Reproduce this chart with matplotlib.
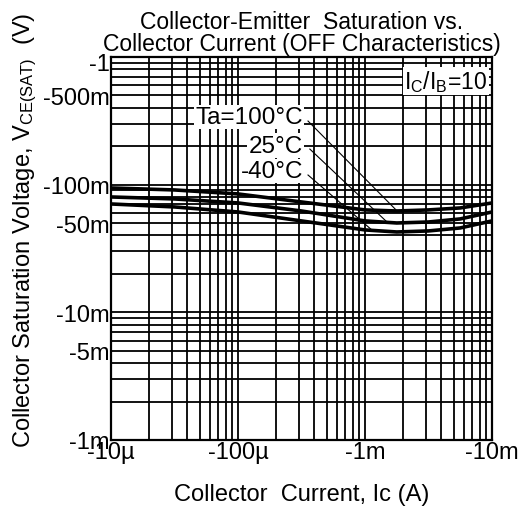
import numpy as np
import matplotlib.pyplot as plt
from matplotlib.ticker import FixedLocator, FixedFormatter, LogLocator, NullFormatter

plt.rcParams['font.family'] = ['Liberation Sans', 'DejaVu Sans']
plt.rcParams['mathtext.default'] = 'regular'

# Ток колектора, А (модуль)
ic = [1e-5, 3.16e-5, 1e-4, 3.16e-4, 1e-3, 1.78e-3, 3.16e-3, 5.62e-3, 1e-2]
# Напруга насичення, В (модуль)
v_100 = [0.0942, 0.0909, 0.0846, 0.0732, 0.0634, 0.0622, 0.0634, 0.0657, 0.0719]
v_25 = [0.0801, 0.0773, 0.0719, 0.0622, 0.0520, 0.0501, 0.0510, 0.0539, 0.0611]
v_m40 = [0.0706, 0.0669, 0.0611, 0.0520, 0.0442, 0.0426, 0.0434, 0.0458, 0.0520]

y_ticks = [1, 0.5, 0.1, 0.05, 0.01, 0.005, 0.001]
y_labels = ["-1", "-500m", "-100m", "-50m", "-10m", "-5m", "-1m"]
x_ticks = [1e-5, 1e-4, 1e-3, 1e-2]
x_labels = ["-10µ", "-100µ", "-1m", "-10m"]

fig = plt.figure(figsize=(5.23, 5.10), dpi=100)
ax = fig.add_axes([0.2122, 0.1353, 0.7285, 0.751])
ax.set_xscale("log")
ax.set_yscale("log")
ax.set_xlim(1e-5, 1e-2)
ax.set_ylim(1e-3, 1)

# верхню мітку "-1" малюю окремо, трохи нижче (як в оригіналі)
ax.yaxis.set_major_locator(FixedLocator(y_ticks))
ax.yaxis.set_major_formatter(FixedFormatter([""] + y_labels[1:]))
ax.yaxis.set_minor_locator(LogLocator(base=10, subs=np.arange(2, 10)))
ax.yaxis.set_minor_formatter(NullFormatter())
ax.xaxis.set_major_locator(FixedLocator(x_ticks))
ax.xaxis.set_major_formatter(FixedFormatter(x_labels))
ax.xaxis.set_minor_locator(LogLocator(base=10, subs=np.arange(2, 10)))
ax.xaxis.set_minor_formatter(NullFormatter())

ax.grid(True, which="both", color="black", linewidth=1.3)
ax.tick_params(which="both", length=0, labelsize=17, pad=1)
for s in ax.spines.values():
    s.set_linewidth(1.6)

ax.annotate(y_labels[0], xy=(0, y_ticks[0]), xycoords=("axes fraction", "data"),
            xytext=(-1, -5), textcoords="offset points", ha="right", va="center", fontsize=17)

for v in (v_100, v_25, v_m40):
    ax.plot(ic, v, color="black", linewidth=2.6, zorder=3)

box = dict(facecolor="white", edgecolor="none", pad=1)
ax.text(0.988, 0.937, r"I$_{C}$/I$_{B}$=10", transform=ax.transAxes, ha="right",
        va="center", fontsize=16.5, bbox=box, zorder=5)

# підписи температур і виноски до кривих
ax.text(3.25e-4, 0.339, "Ta=100°C", ha="right", va="center", fontsize=17.5, bbox=box, zorder=5)
ax.text(3.25e-4, 0.201, "25°C", ha="right", va="center", fontsize=17.5, bbox=box, zorder=5)
ax.text(3.25e-4, 0.128, "-40°C", ha="right", va="center", fontsize=17.5, bbox=box, zorder=5)
ax.plot([3.56e-4, 1.79e-3], [0.315, 0.0622], color="black", linewidth=0.8, zorder=4)
ax.plot([3.68e-4, 1.49e-3], [0.190, 0.0510], color="black", linewidth=0.8, zorder=4)
ax.plot([3.56e-4, 1.156e-3], [0.119, 0.0434], color="black", linewidth=0.8, zorder=4)

ax.set_xlabel("Collector  Current, Ic (A)", fontsize=17, labelpad=14)
ax.set_ylabel(r"Collector Saturation Voltage, V$_{CE(SAT)}$  (V)", fontsize=17)
ax.yaxis.set_label_coords(-0.19, 0.55)

fig.text(0.577, 0.956, "Collector-Emitter  Saturation vs.", ha="center", va="center", fontsize=16.5)
fig.text(0.577, 0.912, "Collector Current (OFF Characteristics)", ha="center", va="center", fontsize=16.5)

fig.savefig("out.png", dpi=100)
